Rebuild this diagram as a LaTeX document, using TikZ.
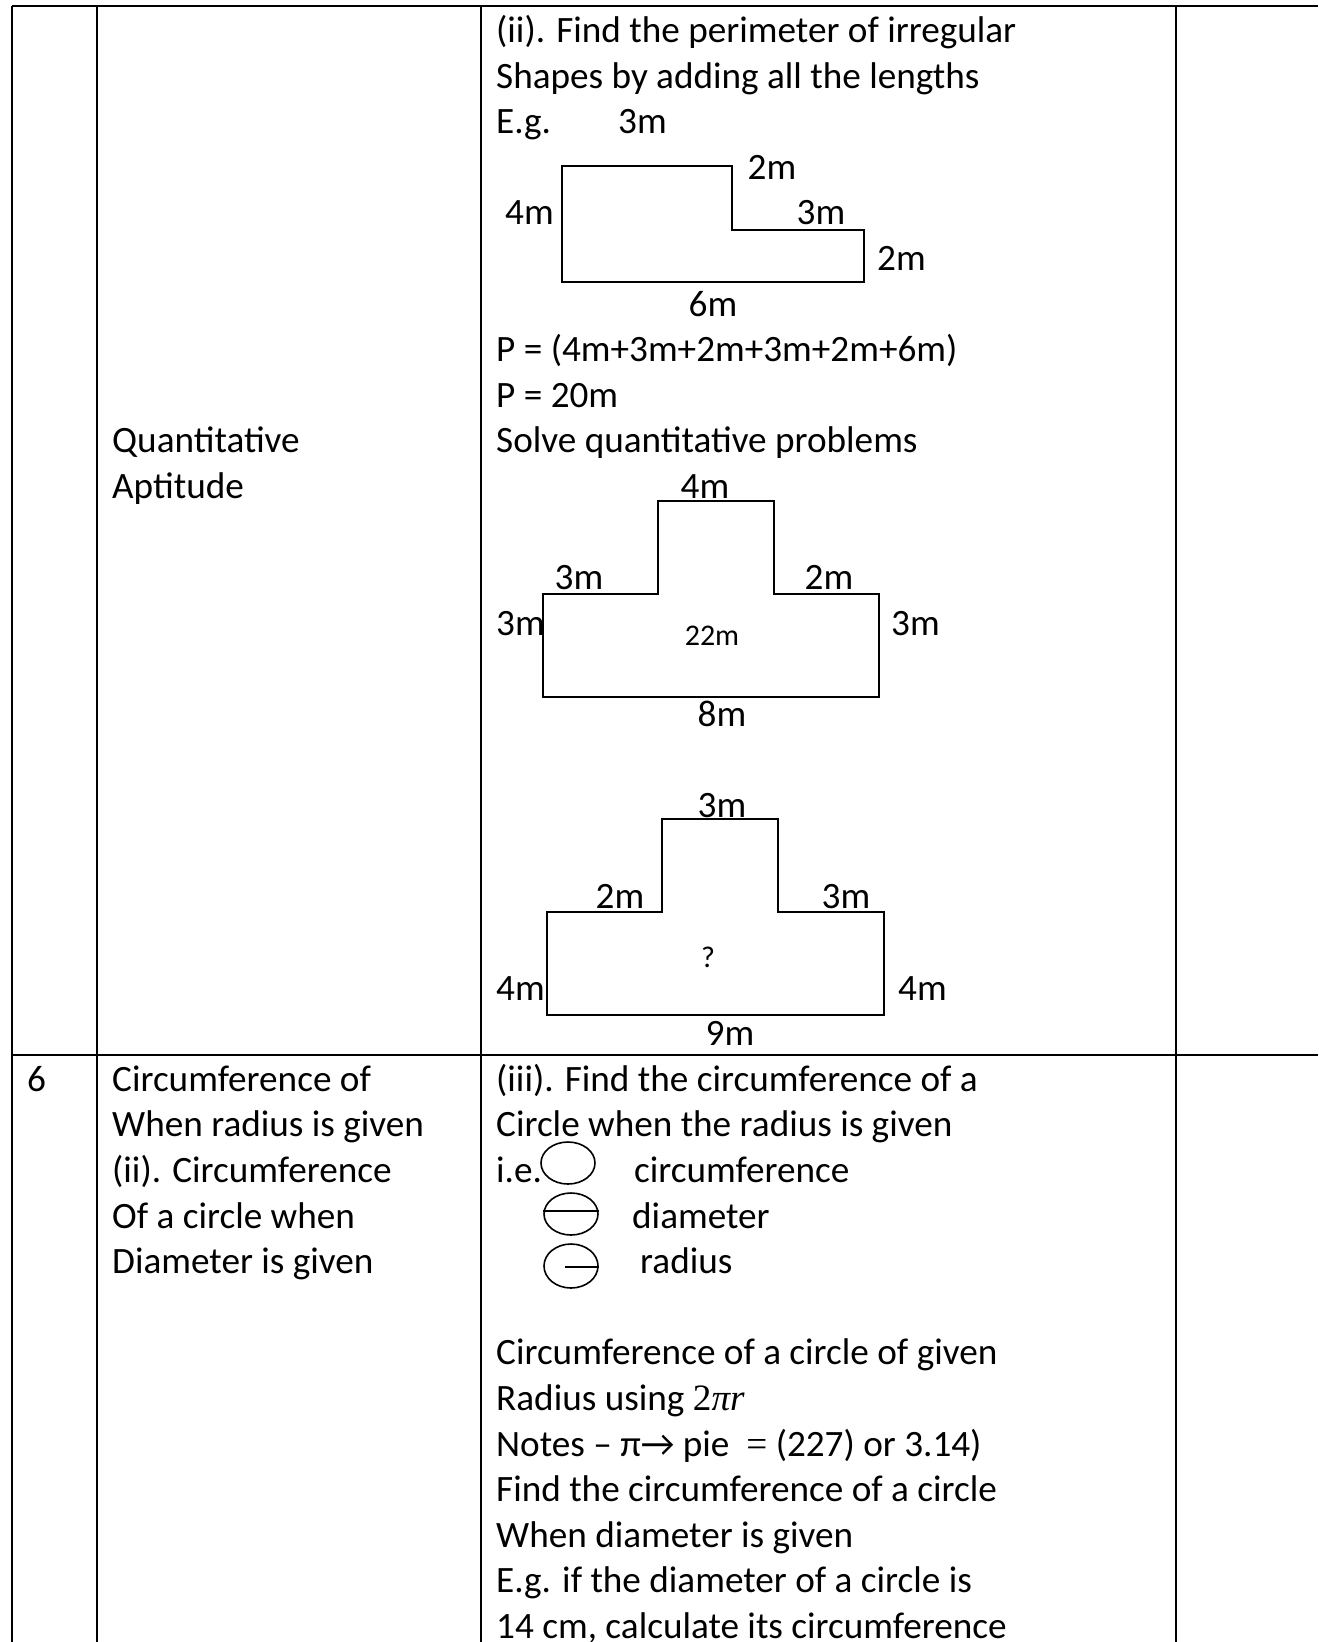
\documentclass[tikz,border=0pt]{standalone}
\usepackage{fontspec}
\usetikzlibrary{shapes.geometric}
\setmainfont{Carlito}
\newfontfamily\serifmath{Liberation Serif}
\begin{document}
\begin{tikzpicture}[x=1pt,y=-1pt,
  txt/.style={anchor=base west,inner sep=0pt,yshift=-2.5pt,font=\fontsize{37.2}{45}\selectfont},
  lbl/.style={anchor=base,inner sep=0pt,yshift=-2.5pt,font=\fontsize{37.2}{45}\selectfont},
  smalllbl/.style={anchor=base,inner sep=0pt,yshift=-2.5pt,font=\fontsize{30}{36}\selectfont},
  rule/.style={line width=2pt},
  fig/.style={line width=1.6pt,line join=miter},
  sym/.style={draw,ellipse,line width=1.6pt,inner sep=0pt,minimum width=54pt,minimum height=42pt}]
\useasboundingbox (0,0) rectangle (1318,1642);

% table grid
\coordinate (tl) at (12,6);
\coordinate (tr) at (1318,6);
\coordinate (ml) at (12,1055);
\coordinate (mr) at (1318,1055);
\draw[rule] (tl) -- (tr);
\draw[rule] (ml) -- (mr);
\foreach \cx/\nm in {12/a,97/b,481/c,1176/d}{
  \coordinate (top\nm) at (\cx,6);
  \coordinate (bot\nm) at (\cx,1642);
  \draw[rule] (top\nm) -- (bot\nm);
}

% left column, upper row
\node[txt] (qa1) at (112,450.4) {Quantitative};
\node[txt] (qa2) at (112,496) {Aptitude};

% middle column, upper row
\node[txt] (u0) at (496,40) {(ii). Find the perimeter of irregular};
\node[txt] (u1) at (496,85.6) {Shapes by adding all the lengths};
\node[txt] (u2) at (496,131.2) {E.g.};
\node[txt] (u7) at (496,359.2) {P = (4m+3m+2m+3m+2m+6m)};
\node[txt] (u8) at (496,404.8) {P = 20m};
\node[txt] (u9) at (496,450.4) {Solve quantitative problems};

% L-shaped figure
\draw[fig] (562,166) -- (732,166) -- (732,230) -- (864,230) -- (864,282) -- (562,282) -- cycle;
\node[txt] (la) at (618,131.2) {3m};
\node[lbl] (lb) at (772,176.8) {2m};
\node[txt] (lc) at (505,222.4) {4m};
\node[lbl] (ld) at (821,222.4) {3m};
\node[txt] (le) at (877,268) {2m};
\node[lbl] (lf) at (713,313.6) {6m};

% first stepped figure
\draw[fig] (543,594) -- (658,594) -- (658,501) -- (774,501) -- (774,594) -- (879,594) -- (879,697) -- (543,697) -- cycle;
\node[lbl] (sa) at (705,496) {4m};
\node[lbl] (sb) at (579,587.2) {3m};
\node[lbl] (sc) at (829,587.2) {2m};
\node[txt] (sd) at (496,632.8) {3m};
\node[txt] (se) at (891,632.8) {3m};
\node[smalllbl] (sf) at (712,643) {22m};
\node[lbl] (sg) at (722,724) {8m};

% second stepped figure
\draw[fig] (547,912) -- (662,912) -- (662,819) -- (778,819) -- (778,912) -- (884,912) -- (884,1015) -- (547,1015) -- cycle;
\node[lbl] (ta) at (722,815.2) {3m};
\node[lbl] (tb) at (620,906.4) {2m};
\node[lbl] (tc) at (846,906.4) {3m};
\node[smalllbl] (td) at (708,965) {?};
\node[txt] (te) at (496,997.6) {4m};
\node[txt] (tf) at (898,997.6) {4m};
\node[lbl] (tg) at (730,1043.2) {9m};

% lower row
\node[txt] (six) at (27,1088.8) {6};
\node[txt] (c1) at (112,1088.8) {Circumference of};
\node[txt] (c2) at (112,1134.4) {When radius is given};
\node[txt] (c3) at (112,1180) {(ii). Circumference};
\node[txt] (c4) at (112,1225.6) {Of a circle when};
\node[txt] (c5) at (112,1271.2) {Diameter is given};

\node[txt] (m0) at (496,1088.8) {(iii). Find the circumference of a};
\node[txt] (m1) at (496,1134.4) {Circle when the radius is given};
\node[txt] (m2) at (496,1180) {i.e.};
\node[txt] (m2b) at (634,1180) {circumference};
\node[txt] (m3) at (632,1225.6) {diameter};
\node[txt] (m4) at (640,1271.2) {radius};

% circle symbols: circumference, diameter, radius
\node[sym] (circA) at (568,1163) {};
\node[sym] (circB) at (571,1214) {};
\node[sym,minimum height=44pt] (circC) at (571,1266) {};
\draw[fig] ([yshift=3pt]circB.west) -- ([yshift=3pt]circB.east);
\draw[fig] ([xshift=-6pt,yshift=-1pt]circC.center) -- ([yshift=-1pt]circC.east);

\node[txt] (m6) at (496,1362.4) {Circumference of a circle of given};
\node[txt] (m7) at (496,1408) {Radius using {\serifmath 2\itshape πr}};
\node[txt] (m8) at (496,1453.6) {Notes – π→ pie \ {\serifmath =} (227) or 3.14)};
\node[txt] (m9) at (496,1499.2) {Find the circumference of a circle};
\node[txt] (m10) at (496,1544.8) {When diameter is given};
\node[txt] (m11) at (496,1590.4) {E.g. if the diameter of a circle is};
\node[txt] (m12) at (496,1636) {14 cm, calculate its circumference};
\end{tikzpicture}
\end{document}
